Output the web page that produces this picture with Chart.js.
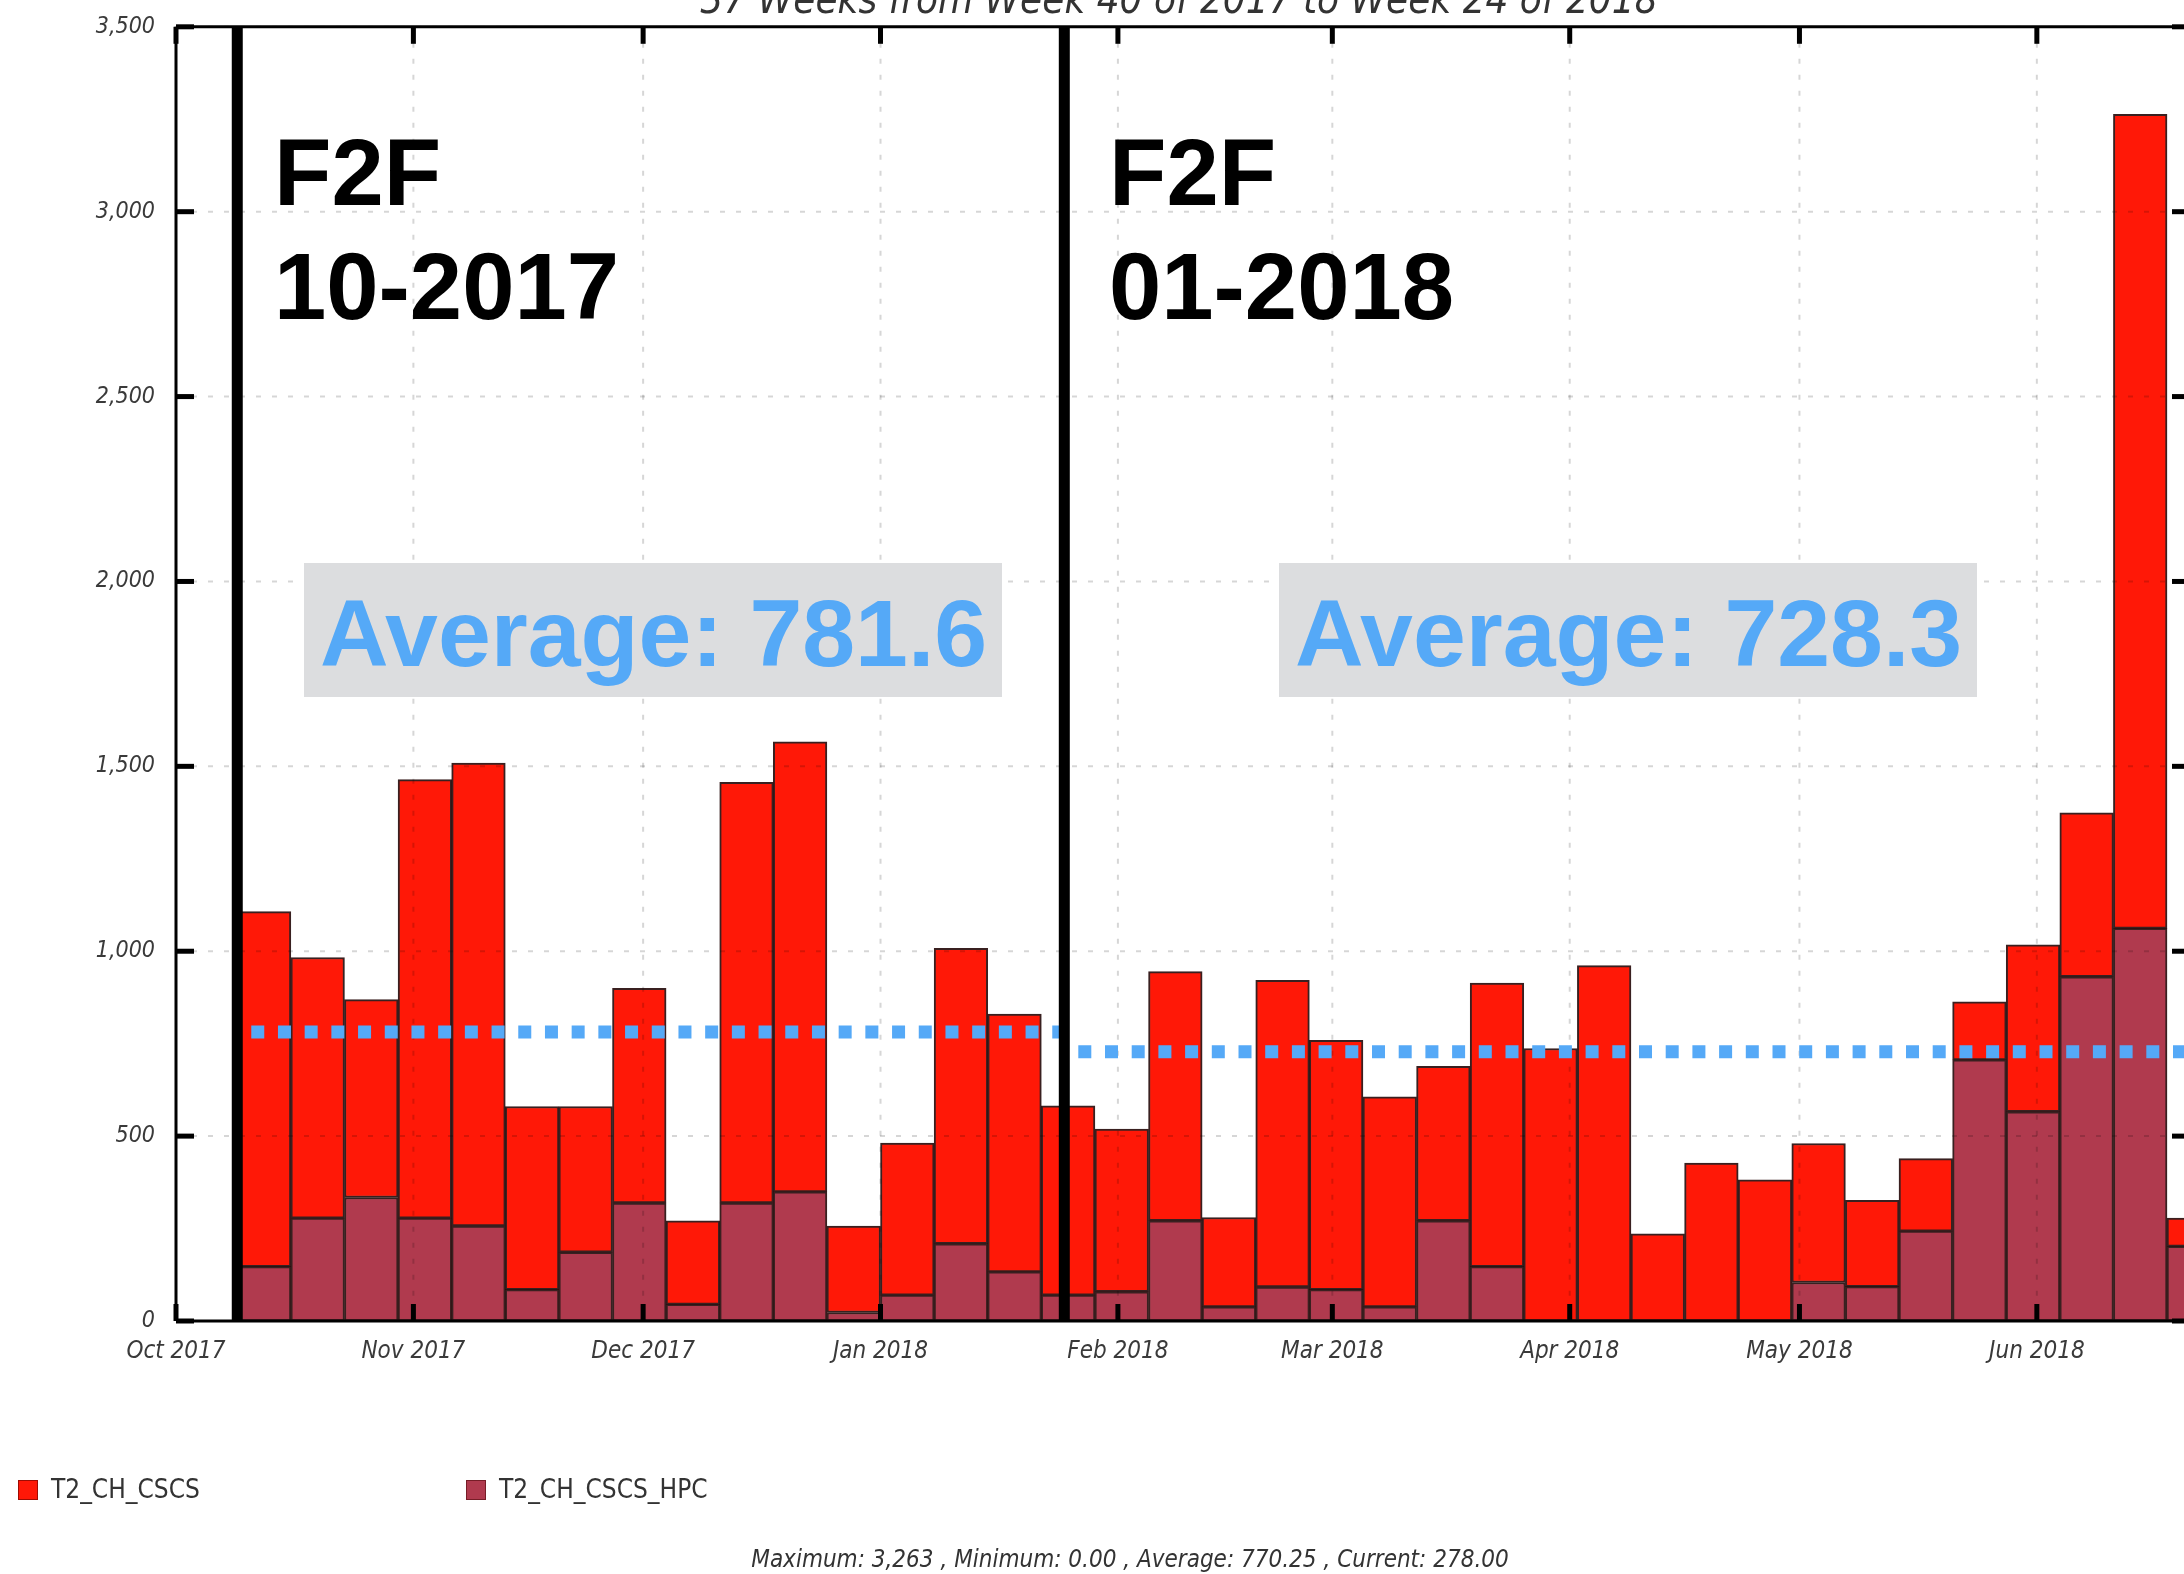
<!DOCTYPE html>
<html>
<head>
<meta charset="utf-8">
<script src="https://cdn.jsdelivr.net/npm/chart.js@4.4.1/dist/chart.umd.min.js"></script>
<style>
  html, body { margin: 0; padding: 0; background: #fff; overflow: hidden; }
  #wrap { position: relative; width: 2200px; height: 1574px; }
</style>
</head>
<body>
<div id="wrap"><canvas id="weeklyChart"></canvas></div>
<script>
// --- data ---
const weekStarts = ['2017-10-09','2017-10-16','2017-10-23','2017-10-30','2017-11-06','2017-11-13','2017-11-20','2017-11-27',
  '2017-12-04','2017-12-11','2017-12-18','2017-12-25','2018-01-01','2018-01-08','2018-01-15','2018-01-22','2018-01-29',
  '2018-02-05','2018-02-12','2018-02-19','2018-02-26','2018-03-05','2018-03-12','2018-03-19','2018-03-26','2018-04-02',
  '2018-04-09','2018-04-16','2018-04-23','2018-04-30','2018-05-07','2018-05-14','2018-05-21','2018-05-28','2018-06-04',
  '2018-06-11','2018-06-18'];
const cscsValues = [960,705,535,1186,1252,495,394,581,226,1138,1217,234,411,799,697,512,440,674,242,829,
  674,568,418,767,737,961,236,427,382,376,233,196,157,451,443,2201,76];
const hpcValues = [147,278,334,278,257,85,186,319,45,319,349,23,70,209,133,70,79,271,38,92,
  85,38,271,147,0,0,0,0,0,104,93,243,706,566,931,1062,202];
const monthStarts = ['2017-10-01','2017-11-01','2017-12-01','2018-01-01','2018-02-01','2018-03-01','2018-04-01','2018-05-01','2018-06-01'];
const monthLabels = ['Oct 2017','Nov 2017','Dec 2017','Jan 2018','Feb 2018','Mar 2018','Apr 2018','May 2018','Jun 2018'];
const f2fDates = ['2017-10-09', '2018-01-25'];
const f2fLabels = [['F2F', '10-2017'], ['F2F', '01-2018']];
const periodAverages = [781.6, 728.3];
const chartTitle = '37 Weeks from Week 40 of 2017 to Week 24 of 2018';
const footerText = 'Maximum: 3,263 , Minimum: 0.00 , Average: 770.25 , Current: 278.00';

// --- helpers ---
const AXIS_START = Date.UTC(2017, 9, 1);
function dayOf(iso) {
    const [y, m, d] = iso.split('-').map(Number);
    return (Date.UTC(y, m - 1, d) - AXIS_START) / 86400000;
}
const weekCenters = weekStarts.map(d => dayOf(d) + 3.5);
const monthDays = monthStarts.map(dayOf);

const COND = '"DejaVu Sans Condensed", "DejaVu Sans", sans-serif';
const BOLD = '"Liberation Sans", Arial, sans-serif';

// pixel layout of the hand-made annotations
const annotationLayout = [
    { labelX: 274, labelY: [205, 319], boxX: 304, boxY: 563, boxW: 698, boxH: 134, textX: 320, textY: 666 },
    { labelX: 1109, labelY: [205, 319], boxX: 1279, boxY: 563, boxW: 698, boxH: 134, textX: 1295, textY: 666 }
];

function line(ctx, x1, y1, x2, y2) {
    ctx.beginPath();
    ctx.moveTo(x1, y1);
    ctx.lineTo(x2, y2);
    ctx.stroke();
}

// grid, avg lines, F2F markers, frame, texts
const decorations = {
    id: 'decorations',
    afterDatasetsDraw(chart) {
        const { ctx, chartArea: a, scales: { x, y } } = chart;
        ctx.save();

        // dotted grid (drawn over the bars)
        ctx.strokeStyle = 'rgba(0,0,0,0.16)';
        ctx.lineWidth = 2;
        ctx.setLineDash([5, 11]);
        x.ticks.forEach(t => {
            const px = x.getPixelForValue(t.value);
            line(ctx, px, a.top, px, a.bottom);
        });
        y.ticks.forEach(t => {
            const py = y.getPixelForValue(t.value);
            line(ctx, a.left, py, a.right, py);
        });

        // period averages
        const f2fX = f2fDates.map(d => x.getPixelForValue(dayOf(d)));
        ctx.strokeStyle = '#55a9f7';
        ctx.lineWidth = 13;
        ctx.lineCap = 'butt';
        ctx.setLineDash([13, 13.7]);
        periodAverages.forEach((avg, i) => {
            const py = y.getPixelForValue(avg);
            const start = f2fX[i] + 14;
            const end = i + 1 < f2fX.length ? f2fX[i + 1] : a.right;
            line(ctx, start, py, end, py);
        });

        // F2F markers
        ctx.setLineDash([]);
        ctx.strokeStyle = '#000';
        ctx.lineWidth = 11;
        f2fX.forEach(px => line(ctx, px, a.top, px, a.bottom));

        // frame + inward ticks
        ctx.lineWidth = 3;
        line(ctx, a.left, a.top, a.left, a.bottom);
        line(ctx, a.left, a.top, a.right, a.top);
        line(ctx, a.left, a.bottom, a.right, a.bottom);
        line(ctx, a.right, a.top, a.right, a.bottom);
        ctx.lineWidth = 5;
        y.ticks.forEach(t => {
            const py = y.getPixelForValue(t.value);
            line(ctx, a.left, py, a.left + 18, py);
            line(ctx, a.right - 18, py, a.right, py);
        });
        x.ticks.forEach(t => {
            const px = x.getPixelForValue(t.value);
            line(ctx, px, a.top, px, a.top + 17);
            line(ctx, px, a.bottom - 17, px, a.bottom);
        });

        // annotations
        annotationLayout.forEach((L, i) => {
            ctx.fillStyle = '#000';
            ctx.font = 'bold 94px ' + BOLD;
            ctx.textAlign = 'left';
            ctx.textBaseline = 'alphabetic';
            f2fLabels[i].forEach((txt, j) => ctx.fillText(txt, L.labelX, L.labelY[j]));

            ctx.fillStyle = '#dcdddf';
            ctx.fillRect(L.boxX, L.boxY, L.boxW, L.boxH);
            ctx.fillStyle = '#55a9f7';
            ctx.font = 'bold 95px ' + BOLD;
            ctx.fillText('Average: ' + periodAverages[i].toFixed(1), L.textX, L.textY);
        });
        ctx.restore();
    },
    afterDraw(chart) {
        const { ctx, chartArea: a } = chart;
        ctx.save();
        // title (partly cut off at the top edge)
        ctx.fillStyle = '#333';
        ctx.font = 'italic 40px ' + COND;
        ctx.textAlign = 'center';
        ctx.textBaseline = 'alphabetic';
        ctx.fillText(chartTitle, (a.left + a.right) / 2 - 4, 13);

        // legend
        const order = [1, 0];
        const legendX = [18, 466];
        ctx.font = '26px ' + COND;
        ctx.textAlign = 'left';
        ctx.textBaseline = 'middle';
        order.forEach((di, k) => {
            const ds = chart.data.datasets[di];
            ctx.fillStyle = ds.backgroundColor;
            ctx.fillRect(legendX[k], 1480, 20, 20);
            ctx.strokeStyle = 'rgba(60,0,0,0.5)';
            ctx.lineWidth = 1;
            ctx.strokeRect(legendX[k] + 0.5, 1480.5, 19, 19);
            ctx.fillStyle = '#333';
            ctx.fillText(ds.label, legendX[k] + 33, 1491);
        });

        // footer
        ctx.font = 'italic 24px ' + COND;
        ctx.textAlign = 'center';
        ctx.fillText(footerText, 1130, 1561);
        ctx.restore();
    }
};

const barStyle = {
    borderColor: 'rgba(35,8,8,0.9)',
    borderWidth: 2,
    borderSkipped: false,
    barPercentage: 1,
    categoryPercentage: 1
};

new Chart(document.getElementById('weeklyChart'), {
    type: 'bar',
    data: {
        datasets: [
            Object.assign({
                label: 'T2_CH_CSCS_HPC',
                data: hpcValues.map((v, i) => ({ x: weekCenters[i], y: v })),
                backgroundColor: '#b03a4e'
            }, barStyle),
            Object.assign({
                label: 'T2_CH_CSCS',
                data: cscsValues.map((v, i) => ({ x: weekCenters[i], y: v })),
                backgroundColor: '#ff1807'
            }, barStyle)
        ]
    },
    options: {
        responsive: true,
        maintainAspectRatio: false,
        animation: false,
        layout: { padding: { top: 19, right: 10, left: 0, bottom: 0 } },
        plugins: {
            legend: { display: false },
            title: { display: false },
            tooltip: { enabled: false }
        },
        scales: {
            x: {
                type: 'linear',
                stacked: true,
                offset: false,
                min: 0,
                max: 263,
                grid: { display: false, offset: false },
                border: { display: false },
                afterBuildTicks: scale => {
                    scale.ticks = monthDays.map(v => ({ value: v }));
                },
                afterFit: scale => { scale.height = 253; },
                ticks: {
                    autoSkip: false,
                    maxRotation: 0,
                    padding: 8,
                    color: '#3a3a3a',
                    font: { family: COND, size: 24, style: 'italic' },
                    callback: value => monthLabels[monthDays.indexOf(value)]
                }
            },
            y: {
                stacked: true,
                min: 0,
                max: 3500,
                grid: { display: false },
                border: { display: false },
                afterFit: scale => { scale.width = 176; },
                ticks: {
                    stepSize: 500,
                    padding: 13,
                    color: '#3a3a3a',
                    font: { family: COND, size: 23, style: 'italic' },
                    callback: value => value.toLocaleString('en-US')
                }
            }
        }
    },
    plugins: [decorations]
});
</script>
</body>
</html>
